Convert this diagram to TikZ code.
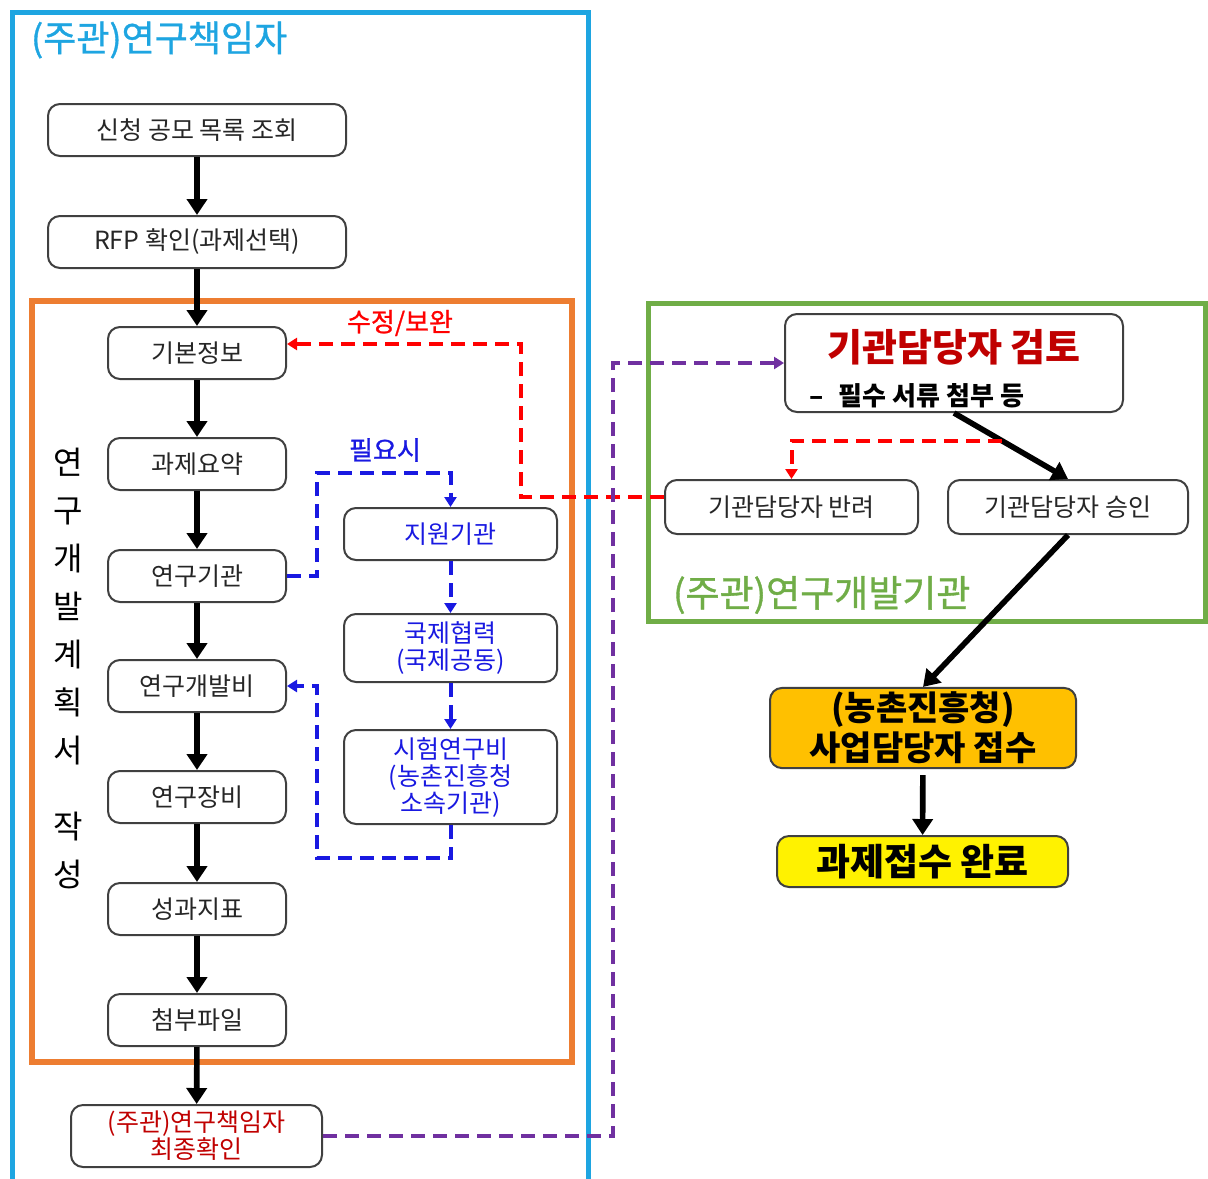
\documentclass[tikz,border=0pt]{standalone}
\usepackage{fontspec}
\setmainfont{Noto Sans CJK KR}
\newfontfamily\titlefont[FakeBold=1]{Noto Sans CJK KR}
\usetikzlibrary{arrows.meta,calc}
\definecolor{framecyan}{RGB}{30,165,225}
\definecolor{frameorange}{RGB}{237,125,49}
\definecolor{framegreen}{RGB}{112,173,71}
\definecolor{boxblue}{RGB}{25,25,225}
\definecolor{darkred}{RGB}{192,0,0}
\definecolor{dashpurple}{RGB}{112,48,160}
\definecolor{rdaorange}{RGB}{255,192,0}
\begin{document}
\begin{tikzpicture}[x=0.5pt,y=-0.5pt,
    box/.style={draw=black!75,line width=1pt,rounded corners=6pt,fill=white,inner sep=2pt,
      align=center,text=black!85,font=\fontsize{12.5}{13.5}\selectfont},
    colbox/.style={box,minimum width=89pt,minimum height=26pt},
    bluebox/.style={box,text=boxblue,minimum width=106.5pt},
    flow/.style={line width=2.8pt,-{Triangle[length=8pt,width=10pt]}},
    reddash/.style={draw=red,line width=2pt,dash pattern=on 7pt off 4pt,-{Triangle[length=5pt,width=6pt]}},
    bluedash/.style={reddash,draw=boxblue},
    purpledash/.style={reddash,draw=dashpurple}]
    \useasboundingbox (0,0) rectangle (1208,1178);
    % frames
    \draw[framecyan,line width=2.5pt] (12,1190) -- (12,12) -- (588,12) -- (588,1190);
    \draw[frameorange,line width=3pt] (32,301) rectangle (572,1062);
    \draw[framegreen,line width=2.5pt] (648,303) rectangle (1205,621);
    \node[text=framecyan,font=\titlefont\fontsize{18}{20}\selectfont,anchor=west] (leadtitle) at (24,40) {(주관)연구책임자};
    \node[text=framegreen,font=\titlefont\fontsize{18.5}{20}\selectfont,anchor=west] (insttitle) at (666,595) {(주관)연구개발기관};
    \node[font=\fontsize{16}{24}\selectfont,align=center] (plan) at (68,668) {연\\구\\개\\발\\계\\획\\서\\[14pt]작\\성};

    % left column
    \node[box,minimum width=149pt,minimum height=26pt] (list) at (197,130) {신청 공모 목록 조회};
    \node[box,minimum width=149pt,minimum height=26pt] (rfp) at (197,242) {RFP 확인(과제선택)};
    \foreach \name/\ypos/\txt in {basic/353/기본정보,summary/464/과제요약,inst/576/연구기관,
        budget/686/연구개발비,equip/797/연구장비,kpi/909/성과지표,attach/1020/첨부파일}
        \node[colbox] (\name) at (197,\ypos) {\txt};
    \node[box,text=darkred,minimum width=125.5pt,minimum height=31pt] (final) at (196.5,1136) {(주관)연구책임자\\최종확인};
    \foreach \a/\b in {list/rfp,rfp/basic,basic/summary,summary/inst,inst/budget,
        budget/equip,equip/kpi,kpi/attach,attach/final}
        \draw[flow] (\a) -- (\b);

    % optional items
    \node[bluebox,minimum height=26pt] (support) at (450.5,534) {지원기관};
    \node[bluebox,minimum height=34pt] (intl) at (450.5,648) {국제협력\\(국제공동)};
    \node[bluebox,minimum height=47pt] (trial) at (450.5,777) {시험연구비\\(농촌진흥청\\소속기관)};
    \node[text=boxblue,font=\titlefont\fontsize{13}{15}\selectfont] (needlabel) at (385,450) {필요시};
    \draw[bluedash] (inst.east) -| ++(30,-103) -| (support.north);
    \draw[bluedash] (support) -- (intl);
    \draw[bluedash] (intl) -- (trial);
    \draw[bluedash] (trial.south) |- ++(-134,33) |- (budget.east);

    % institution review
    \node[box,minimum width=169pt,minimum height=49pt] (review) at (954,363) {};
    \node[text=darkred,font=\bfseries\fontsize{19}{22}\selectfont] (reviewtitle) at (954,347) {기관담당자 검토};
    \node[font=\bfseries\fontsize{13}{15}\selectfont,anchor=west] (reviewnote) at (802,396) {–\hspace{0.6em}필수 서류 첨부 등};
    \node[box,minimum width=126.5pt,minimum height=27pt] (return) at (791.5,507) {기관담당자 반려};
    \node[box,minimum width=120pt,minimum height=27pt] (approve) at (1068,507) {기관담당자 승인};
    \node[box,fill=rdaorange,text=black,font=\bfseries\fontsize{17}{20}\selectfont,
        minimum width=153pt,minimum height=40pt] (rda) at (923,728) {(농촌진흥청)\\사업담당자 접수};
    \node[box,fill=yellow,text=black,font=\bfseries\fontsize{18.5}{20}\selectfont,
        minimum width=145.5pt,minimum height=25.5pt] (done) at (922.5,861.5) {과제접수 완료};
    \draw[flow] (review.south) -- (approve.north);
    \draw[flow] (approve.south) -- (rda.north);
    \draw[flow,shorten <=3pt] (rda) -- (done);

    \coordinate (fork) at ($(review.south)!0.42!(approve.north)$);
    \draw[reddash] (fork) -| (return.north);
    \draw[reddash] ([yshift=5pt]return.west) -- ++(-143,0) |- ([yshift=4.5pt]basic.east);
    \node[text=red,font=\titlefont\fontsize{13}{15}\selectfont] (fixlabel) at (400,323) {수정/보완};
    \draw[purpledash] (final.east) -- ++(290,0) |- (review.west);
\end{tikzpicture}
\end{document}
